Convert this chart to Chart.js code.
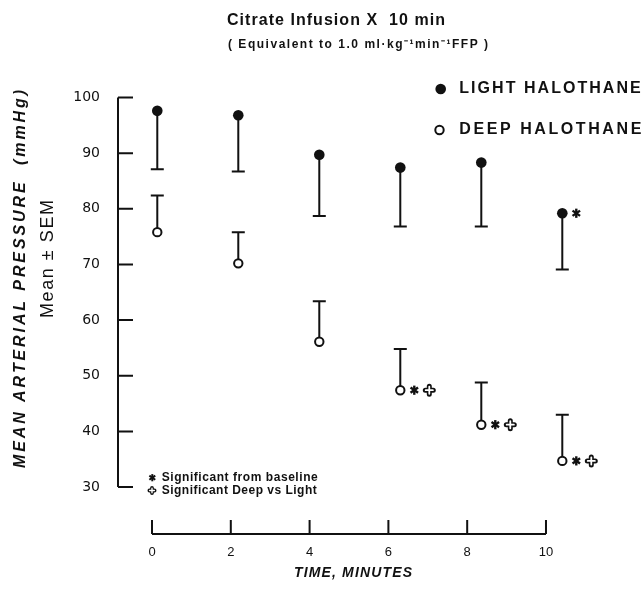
<!DOCTYPE html>
<html>
<head>
<meta charset="utf-8">
<title>Citrate Infusion X 10 min</title>
<script src="https://cdn.jsdelivr.net/npm/chart.js@4.4.1/dist/chart.umd.min.js"></script>
<style>
  html, body { margin: 0; padding: 0; background: #fff; }
  #chart { display: block; }
</style>
</head>
<body>
<canvas id="chart" width="644" height="592"></canvas>
<script>
// time after start of the citrate infusion (minutes)
const minutes = [0, 2, 4, 6, 8, 10];
const xTicks = [0, 2, 4, 6, 8, 10];
const yTicks = [30, 40, 50, 60, 70, 80, 90, 100];

// mean arterial pressure (mmHg), mean and SEM
const lightMean = [97.6, 96.8, 89.7, 87.4, 88.3, 79.2];
const lightSem = [10.5, 10.1, 11.0, 10.6, 11.5, 10.1];
const deepMean = [75.8, 70.2, 56.1, 47.4, 41.2, 34.7];
const deepSem = [6.6, 5.6, 7.3, 7.4, 7.6, 8.3];

// significance marks next to the points
const lightFromBaseline = [false, false, false, false, false, true];
const deepFromBaseline = [false, false, false, true, true, true];
const deepVsLight = [false, false, false, true, true, true];

const INK = '#111';

// draws text stretched/squeezed to a given width (letter spacing)
function spacedText(ctx, text, x, y, width, align) {
    const chars = Array.from(text);
    const natural = chars.reduce((s, ch) => s + ctx.measureText(ch).width, 0);
    const gap = chars.length > 1 ? (width - natural) / (chars.length - 1) : 0;
    let cx = align === 'center' ? x - width / 2 : x;
    ctx.textAlign = 'left';
    chars.forEach(ch => {
        ctx.fillText(ch, cx, y);
        cx += ctx.measureText(ch).width + gap;
    });
}

function drawStar(ctx, x, y, r, lw) {
    ctx.save();
    ctx.strokeStyle = INK;
    ctx.lineWidth = lw;
    [90, 35, -35].forEach(a => {
        const dx = Math.cos(a * Math.PI / 180) * r;
        const dy = Math.sin(a * Math.PI / 180) * r;
        ctx.beginPath();
        ctx.moveTo(x - dx, y - dy);
        ctx.lineTo(x + dx, y + dy);
        ctx.stroke();
    });
    ctx.restore();
}

// outlined greek cross
function drawOpenCross(ctx, x, y, r, lw) {
    ctx.save();
    ctx.lineCap = 'round';
    ctx.strokeStyle = INK;
    ctx.lineWidth = lw;
    ctx.beginPath();
    ctx.moveTo(x - r, y); ctx.lineTo(x + r, y);
    ctx.moveTo(x, y - r); ctx.lineTo(x, y + r);
    ctx.stroke();
    ctx.strokeStyle = '#fff';
    ctx.lineWidth = lw * 0.36;
    const ri = r * 0.9;
    ctx.beginPath();
    ctx.moveTo(x - ri, y); ctx.lineTo(x + ri, y);
    ctx.moveTo(x, y - ri); ctx.lineTo(x, y + ri);
    ctx.stroke();
    ctx.restore();
}

// axes drawn like the original: separate lines, ticks pointing inward
const handAxes = {
    id: 'handAxes',
    beforeDatasetsDraw(chart) {
        const ctx = chart.ctx;
        const x = chart.scales.x;
        const y = chart.scales.y;
        const left = chart.chartArea.left;
        const bottom = chart.chartArea.bottom;
        ctx.save();
        ctx.strokeStyle = INK;
        ctx.lineWidth = 2;
        ctx.beginPath();
        ctx.moveTo(left, y.getPixelForValue(yTicks[0]));
        ctx.lineTo(left, y.getPixelForValue(yTicks[yTicks.length - 1]));
        yTicks.forEach(v => {
            const py = y.getPixelForValue(v);
            ctx.moveTo(left, py);
            ctx.lineTo(left + 15, py);
        });
        ctx.moveTo(x.getPixelForValue(xTicks[0]), bottom);
        ctx.lineTo(x.getPixelForValue(xTicks[xTicks.length - 1]), bottom);
        xTicks.forEach(v => {
            const px = x.getPixelForValue(v);
            ctx.moveTo(px, bottom);
            ctx.lineTo(px, bottom - 14);
        });
        ctx.stroke();
        ctx.restore();
    }
};

// one-sided SEM bars: light goes down, deep goes up
const semBars = {
    id: 'semBars',
    beforeDatasetsDraw(chart) {
        const ctx = chart.ctx;
        const y = chart.scales.y;
        ctx.save();
        ctx.strokeStyle = INK;
        ctx.lineWidth = 2;
        chart.data.datasets.forEach((ds, i) => {
            const meta = chart.getDatasetMeta(i);
            ds.data.forEach((p, j) => {
                const px = meta.data[j].x;
                const y0 = y.getPixelForValue(p.y);
                const y1 = y.getPixelForValue(p.y + ds.semDir * ds.sem[j]);
                ctx.beginPath();
                ctx.moveTo(px, y0);
                ctx.lineTo(px, y1);
                ctx.moveTo(px - 6.5, y1);
                ctx.lineTo(px + 6.5, y1);
                ctx.stroke();
            });
        });
        ctx.restore();
    }
};

const sigMarks = {
    id: 'sigMarks',
    afterDatasetsDraw(chart) {
        const ctx = chart.ctx;
        const light = chart.getDatasetMeta(0).data;
        const deep = chart.getDatasetMeta(1).data;
        minutes.forEach((m, i) => {
            if (lightFromBaseline[i]) drawStar(ctx, light[i].x + 14, light[i].y, 4.6, 2.4);
            if (deepFromBaseline[i]) drawStar(ctx, deep[i].x + 14, deep[i].y, 4.6, 2.4);
            if (deepVsLight[i]) drawOpenCross(ctx, deep[i].x + 29, deep[i].y, 4, 5);
        });
    }
};

const labels = {
    id: 'labels',
    afterDraw(chart) {
        const ctx = chart.ctx;
        ctx.save();
        ctx.fillStyle = INK;
        ctx.textBaseline = 'middle';

        ctx.font = 'bold 16px "Liberation Sans", Arial, sans-serif';
        spacedText(ctx, 'Citrate Infusion X  10 min', 227, 21, 218);
        ctx.font = 'bold 12px "Liberation Sans", Arial, sans-serif';
        spacedText(ctx, '( Equivalent to 1.0 ml\u00b7kg\u207b\u00b9min\u207b\u00b9FFP )', 228, 45, 260);

        // legend
        ctx.beginPath();
        ctx.arc(440.7, 89, 5.3, 0, Math.PI * 2);
        ctx.fill();
        ctx.beginPath();
        ctx.lineWidth = 2;
        ctx.strokeStyle = INK;
        ctx.arc(439.5, 130, 4.2, 0, Math.PI * 2);
        ctx.stroke();
        ctx.font = 'bold 16px "Liberation Sans", Arial, sans-serif';
        spacedText(ctx, 'LIGHT HALOTHANE', 459.3, 89, 181.4);
        spacedText(ctx, 'DEEP HALOTHANE', 459.3, 130, 182);

        // key for the significance marks
        drawStar(ctx, 152.3, 477.7, 3.6, 2);
        drawOpenCross(ctx, 152, 490.5, 2.6, 3.8);
        ctx.fillStyle = INK;
        ctx.font = 'bold 12px "Liberation Sans", Arial, sans-serif';
        spacedText(ctx, 'Significant from baseline', 161.7, 477.7, 156);
        spacedText(ctx, 'Significant Deep vs Light', 161.7, 490.5, 155);

        // axis titles
        ctx.font = 'italic bold 14px "Liberation Sans", Arial, sans-serif';
        spacedText(ctx, 'TIME, MINUTES', 353, 573.5, 118, 'center');

        ctx.translate(20.5, 279);
        ctx.rotate(-Math.PI / 2);
        ctx.font = 'italic bold 16px "Liberation Sans", Arial, sans-serif';
        spacedText(ctx, 'MEAN ARTERIAL PRESSURE  (mmHg)', 0, 0, 378, 'center');
        ctx.restore();

        ctx.save();
        ctx.fillStyle = INK;
        ctx.textBaseline = 'middle';
        ctx.translate(48.5, 259);
        ctx.rotate(-Math.PI / 2);
        ctx.font = '18px "Liberation Sans", Arial, sans-serif';
        spacedText(ctx, 'Mean \u00b1 SEM', 0, 0, 118, 'center');
        ctx.restore();
    }
};

new Chart(document.getElementById('chart'), {
    type: 'scatter',
    data: {
        datasets: [{
            label: 'LIGHT HALOTHANE',
            data: minutes.map((m, i) => ({ x: m, y: lightMean[i] })),
            sem: lightSem,
            semDir: -1,
            xAxisID: 'xd',
            pointRadius: 5.3,
            pointBackgroundColor: INK,
            pointBorderColor: INK,
            pointBorderWidth: 0,
            clip: false
        }, {
            label: 'DEEP HALOTHANE',
            data: minutes.map((m, i) => ({ x: m, y: deepMean[i] })),
            sem: deepSem,
            semDir: 1,
            xAxisID: 'xd',
            pointRadius: 4.2,
            pointBackgroundColor: '#fff',
            pointBorderColor: INK,
            pointBorderWidth: 2,
            clip: false
        }]
    },
    options: {
        responsive: false,
        animation: false,
        events: [],
        layout: { padding: { top: 97.5, right: 44, bottom: 0, left: 0 } },
        plugins: {
            legend: { display: false },
            tooltip: { enabled: false }
        },
        scales: {
            x: {
                type: 'linear',
                position: 'bottom',
                min: -0.863,
                max: 11.371,
                afterBuildTicks: s => { s.ticks = xTicks.map(v => ({ value: v })); },
                afterFit: s => { s.height = 58; },
                grid: { display: false, drawTicks: false },
                border: { display: false },
                ticks: {
                    padding: 11,
                    color: INK,
                    font: { family: '"Liberation Sans", Arial, sans-serif', size: 13 }
                }
            },
            xd: {
                type: 'linear',
                display: false,
                min: -0.970,
                max: 10.931
            },
            y: {
                type: 'linear',
                min: 21.56,
                max: 100,
                afterBuildTicks: s => { s.ticks = yTicks.map(v => ({ value: v })); },
                afterFit: s => { s.width = 118; },
                grid: { display: false, drawTicks: false },
                border: { display: false },
                ticks: {
                    padding: 18,
                    color: INK,
                    font: { family: '"DejaVu Sans", sans-serif', size: 14 }
                }
            }
        }
    },
    plugins: [handAxes, semBars, sigMarks, labels]
});
</script>
</body>
</html>
